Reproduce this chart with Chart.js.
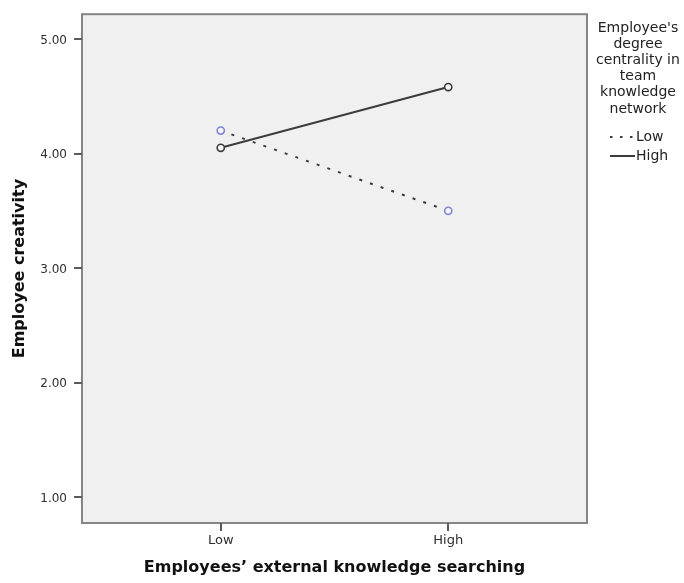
<!DOCTYPE html>
<html>
<head>
<meta charset="utf-8">
<script src="https://cdn.jsdelivr.net/npm/chart.js@4/dist/chart.umd.min.js"></script>
<style>
  html, body { margin: 0; padding: 0; background: #ffffff; }
  #wrap { width: 684px; height: 583px; position: relative; }
</style>
</head>
<body>
<div id="wrap"><canvas id="c" width="684" height="583"></canvas></div>
<script>
// Estimated marginal means of creativity by external knowledge searching,
// split by degree centrality in the team knowledge network.
const searchLevels = ['Low', 'High'];
const centralityGroups = ['Low', 'High'];
const lowCentrality = [4.20, 3.50];
const highCentrality = [4.05, 4.58];
const yTickValues = [1, 2, 3, 4, 5];
const legendTitle = ["Employee's", 'degree', 'centrality in', 'team', 'knowledge', 'network'];
const yTitle = 'Employee creativity';
const xTitle = 'Employees\u2019 external knowledge searching';

const toPoints = vals => vals.map((v, i) => ({ x: i + 1, y: v }));

const LINE_DARK = '#3c3c3c';
const RING_BLUE = '#7f84d8';
const PANEL_BG = '#f0f0f0';
const FRAME = '#858585';
const TICK_MARK = '#5a5a5a';

// Panel fill and frame behind the lines
const panelPlugin = {
  id: 'panel',
  beforeDraw(chart) {
    const { ctx, chartArea: a } = chart;
    ctx.save();
    ctx.fillStyle = PANEL_BG;
    ctx.fillRect(a.left, a.top, a.right - a.left, a.bottom - a.top);
    ctx.strokeStyle = FRAME;
    ctx.lineWidth = 2;
    ctx.strokeRect(a.left, a.top, a.right - a.left, a.bottom - a.top);
    ctx.restore();
  }
};

// Legend block on the right: wrapped title and two line samples
const sideLegendPlugin = {
  id: 'sideLegend',
  afterDraw(chart) {
    const { ctx } = chart;
    const cx = 638;
    ctx.save();
    ctx.fillStyle = '#222222';
    ctx.font = '14px "DejaVu Sans"';
    ctx.textAlign = 'center';
    ctx.textBaseline = 'middle';
    legendTitle.forEach((line, i) => ctx.fillText(line, cx, 28 + i * 16.2));

    const rows = [
      { label: centralityGroups[0], y: 137, dash: [2.5, 7.5] },
      { label: centralityGroups[1], y: 156, dash: [] }
    ];
    rows.forEach(r => {
      ctx.strokeStyle = LINE_DARK;
      ctx.lineWidth = 2;
      ctx.setLineDash(r.dash);
      ctx.beginPath();
      ctx.moveTo(610, r.y);
      ctx.lineTo(635, r.y);
      ctx.stroke();
      ctx.setLineDash([]);
      ctx.textAlign = 'left';
      ctx.fillText(r.label, 636, r.y);
    });
    ctx.restore();
  }
};

new Chart(document.getElementById('c'), {
  type: 'line',
  data: {
    datasets: [
      {
        label: centralityGroups[0],
        data: toPoints(lowCentrality),
        borderColor: LINE_DARK,
        borderWidth: 2,
        borderDash: [3, 8.3],
        pointRadius: 3.6,
        pointBorderWidth: 1.6,
        pointBorderColor: RING_BLUE,
        pointBackgroundColor: '#f6f6f6',
        fill: false,
        tension: 0
      },
      {
        label: centralityGroups[1],
        data: toPoints(highCentrality),
        borderColor: LINE_DARK,
        borderWidth: 2,
        pointRadius: 3.6,
        pointBorderWidth: 1.6,
        pointBorderColor: '#3a3a3a',
        pointBackgroundColor: '#f6f6f6',
        fill: false,
        tension: 0
      }
    ]
  },
  options: {
    responsive: false,
    animation: false,
    devicePixelRatio: 1,
    layout: { padding: { top: 10, right: 97, left: 0, bottom: 0 } },
    plugins: {
      legend: { display: false },
      tooltip: { enabled: false }
    },
    scales: {
      x: {
        type: 'linear',
        min: 0.39,
        max: 2.61,
        afterBuildTicks: s => { s.ticks = searchLevels.map((_, i) => ({ value: i + 1 })); },
        afterFit: s => { s.height = 60; },
        border: { display: false },
        grid: { drawOnChartArea: false, drawTicks: true, tickLength: 8, color: TICK_MARK, lineWidth: 2 },
        ticks: {
          callback: v => searchLevels[v - 1],
          font: { family: 'DejaVu Sans', size: 13 },
          color: '#2e2e2e',
          padding: 2,
          maxRotation: 0
        },
        title: {
          display: true,
          text: xTitle,
          font: { family: 'DejaVu Sans', size: 16, weight: 'bold' },
          color: '#111111',
          padding: { top: 0, bottom: 5.4 }
        }
      },
      y: {
        min: 0.775,
        max: 5.216,
        afterBuildTicks: s => { s.ticks = yTickValues.map(v => ({ value: v })); },
        afterFit: s => { s.width = 82; },
        border: { display: false },
        grid: { drawOnChartArea: false, drawTicks: true, tickLength: 8, color: TICK_MARK, lineWidth: 2 },
        ticks: {
          callback: v => Number(v).toFixed(2),
          font: { family: 'DejaVu Sans', size: 12 },
          color: '#2e2e2e',
          padding: 7,
          labelOffset: 1.5
        },
        title: {
          display: true,
          text: yTitle,
          font: { family: 'DejaVu Sans', size: 16, weight: 'bold' },
          color: '#111111',
          padding: { top: 10.4, bottom: 0 }
        }
      }
    }
  },
  plugins: [panelPlugin, sideLegendPlugin]
});
</script>
</body>
</html>
